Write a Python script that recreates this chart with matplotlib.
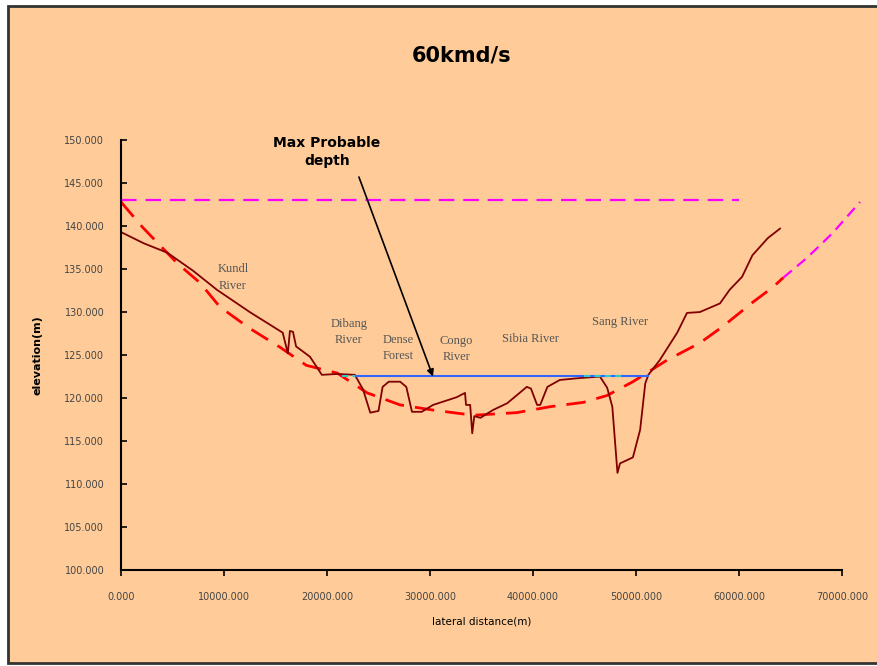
import matplotlib
matplotlib.use("Agg")
import matplotlib.pyplot as plt
from matplotlib.patches import Rectangle

# ground profile (lateral distance m, elevation m)
ground_x = [0, 2200, 4500, 7000, 9300, 12500, 15700, 16200, 16400, 16700, 17000,
            18350, 19500, 21000, 22700, 23500, 24200, 25000, 25400, 26000, 27100,
            27700, 28250, 29200, 30300, 32600, 33400, 33500, 33900, 34100, 34300,
            34900, 36100, 37500, 39400, 39800, 40400, 40700, 41400, 42600, 44300,
            46500, 47200, 47700, 48200, 48450, 49700, 50400, 50900, 51200, 52300,
            54000, 54950, 56200, 58150, 59100, 60300, 61300, 62800, 63980]
ground_y = [139.3, 138.0, 136.9, 134.8, 132.6, 130.0, 127.6, 125.2, 127.8, 127.7, 126.0,
            124.8, 122.7, 122.8, 122.7, 121.0, 118.3, 118.5, 121.3, 121.9, 121.9,
            121.3, 118.4, 118.4, 119.2, 120.1, 120.6, 119.2, 119.2, 115.9, 117.9,
            117.7, 118.6, 119.4, 121.3, 121.1, 119.2, 119.2, 121.3, 122.1, 122.3,
            122.5, 121.2, 119.0, 111.3, 112.4, 113.1, 116.3, 121.7, 122.7, 124.4,
            127.6, 129.9, 130.0, 131.0, 132.6, 134.1, 136.6, 138.6, 139.7]

# fitted section (red) and its extension (magenta)
fit_x = [0, 2140, 5440, 7670, 9600, 12500, 15450, 18000, 21000, 23900, 27100,
         30300, 34200, 38400, 41700, 44900, 47200, 49700, 53000, 56200, 58400,
         61400, 63300, 64300]
fit_y = [142.8, 139.8, 135.7, 133.4, 130.6, 128.1, 125.9, 123.8, 122.9, 120.6, 119.2,
         118.6, 118.0, 118.3, 119.0, 119.5, 120.3, 121.9, 124.4, 126.4, 128.3,
         131.2, 132.9, 134.0]
ext_x = [64300, 66600, 69100, 71750]
ext_y = [134.0, 136.3, 139.2, 142.8]

# max probable level and water surface
max_x = [0, 60000]
max_y = [143.0, 143.0]
water_x = [22700, 51200]
water_y = [122.6, 122.6]
cyan_x1 = [21500, 22700]
cyan_x2 = [45000, 48500]
cyan_y = [122.6, 122.6]

labels = [("Kundl\nRiver", 10870, 134.0), ("Dibang\nRiver", 22140, 127.7),
          ("Dense\nForest", 26890, 125.8), ("Congo\nRiver", 32530, 125.7),
          ("Sibia River", 39710, 126.9), ("Sang River", 48450, 128.8)]

bg = "#FFCC99"
fig = plt.figure(figsize=(8.78, 6.66), dpi=100, facecolor="white")
fig.patches.append(Rectangle((0.009, 0.004), 1.0, 0.987, transform=fig.transFigure,
                             facecolor=bg, edgecolor="#333333", linewidth=2, zorder=-1))
ax = fig.add_axes([0.1378, 0.1441, 0.8212, 0.6456])
ax.set_facecolor(bg)

ax.plot(max_x, max_y, color="#FF00FF", linewidth=1.6, dashes=(7, 4))
ax.plot(fit_x, fit_y, color="#FF0000", linewidth=2, dashes=(7, 4))
ax.plot(ext_x, ext_y, color="#FF00FF", linewidth=1.6, dashes=(5, 3), clip_on=False)
ax.plot(ground_x, ground_y, color="#800000", linewidth=1.3)
ax.plot(water_x, water_y, color="#3366FF", linewidth=1.5)
ax.plot(cyan_x1, cyan_y, color="#33CCCC", linewidth=1.5, dashes=(3, 2))
ax.plot(cyan_x2, cyan_y, color="#33CCCC", linewidth=1.5, dashes=(3, 2))

for txt, lx, ly in labels:
    ax.text(lx, ly, txt, fontsize=9, family="Liberation Serif", color="#555555",
            ha="center", va="center", linespacing=1.5)

ax.text(20000, 148.6, "Max Probable\ndepth", ha="center", va="center", fontsize=10,
        fontweight="bold", linespacing=1.3)
ax.annotate("", xy=(30290, 122.5), xytext=(23100, 145.7),
            arrowprops=dict(arrowstyle="-|>", color="black", lw=1.2,
                            shrinkA=0, shrinkB=0))

ax.set_xlim(0, 70000)
ax.set_ylim(100, 150)
ax.set_xticks(range(0, 70001, 10000))
ax.set_xticklabels(["%.3f" % v for v in range(0, 70001, 10000)])
ax.set_yticks(range(100, 151, 5))
ax.set_yticklabels(["%.3f" % v for v in range(100, 151, 5)])
ax.tick_params(axis="x", direction="out", length=4, width=1.2, labelsize=7,
               labelcolor="#444444", pad=12)
ax.tick_params(axis="y", direction="in", length=4, width=1.2, labelsize=7,
               labelcolor="#444444", pad=12)
for s in ["top", "right"]:
    ax.spines[s].set_visible(False)
for s in ["left", "bottom"]:
    ax.spines[s].set_linewidth(1.5)

ax.set_xlabel("lateral distance(m)", fontsize=7.5, labelpad=10)
ax.set_ylabel("elevation(m)", fontsize=8, fontweight="bold", labelpad=16)
fig.text(0.526, 0.917, "60kmd/s", ha="center", va="center", fontsize=15,
         fontweight="bold")

fig.savefig("out.png", dpi=100, facecolor=fig.get_facecolor())
